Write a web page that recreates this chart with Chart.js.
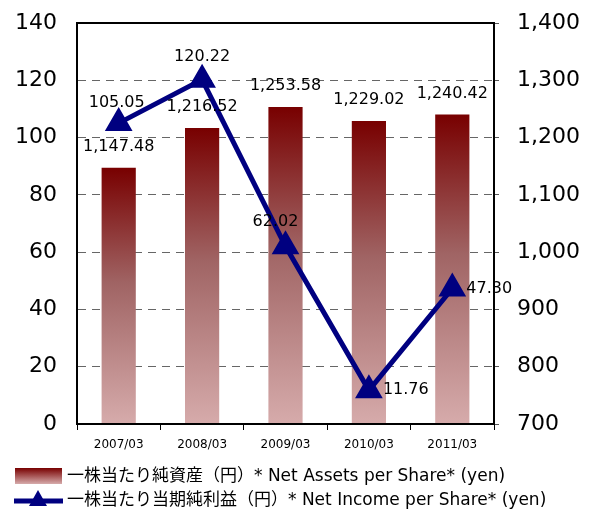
<!DOCTYPE html>
<html>
<head>
<meta charset="utf-8">
<script src="https://cdn.jsdelivr.net/npm/chart.js@4"></script>
<style>
	body { margin: 0; background: #fff; }
	#wrap { width: 598px; height: 512px; }
</style>
</head>
<body>
<div id="wrap"><canvas id="eps" width="598" height="512"></canvas></div>
<script>
// Data
var periods = ['2007/03', '2008/03', '2009/03', '2010/03', '2011/03'];
var netAssets = [1147.48, 1216.52, 1253.58, 1229.02, 1240.42];
var netIncome = [105.05, 120.22, 62.02, 11.76, 47.30];
var assetsLabel = '一株当たり純資産（円）* Net Assets per Share* (yen)';
var incomeLabel = '一株当たり当期純利益（円）* Net Income per Share* (yen)';

var FONT = "'DejaVu Sans', 'Noto Sans CJK JP', sans-serif";
var NAVY = '#000080';

var fmt = function (v) {
	return v.toLocaleString('en-US', { minimumFractionDigits: 2, maximumFractionDigits: 2 });
};

// per-bar gradient: dark red on top, pale pink at the bottom
var barFill = function (ctx) {
	var chart = ctx.chart;
	if (!chart.chartArea || !chart.scales.y1) return '#a05050';
	var top = chart.scales.y1.getPixelForValue(netAssets[ctx.dataIndex]);
	var g = chart.ctx.createLinearGradient(0, top, 0, chart.chartArea.bottom);
	g.addColorStop(0, '#780000');
	g.addColorStop(0.45, '#a06464');
	g.addColorStop(1, '#d6abab');
	return g;
};

// frame, value labels and legend
var decorations = {
	id: 'decorations',
	afterDatasetsDraw(chart) {
		var c = chart.ctx, a = chart.chartArea;
		c.save();
		c.strokeStyle = '#000';
		c.lineWidth = 2;
		c.strokeRect(a.left, a.top, a.right - a.left, a.bottom - a.top);

		c.fillStyle = '#000';
		c.font = '16px ' + FONT;
		c.textAlign = 'center';
		c.textBaseline = 'middle';
		var bars = chart.getDatasetMeta(0).data;
		var pts = chart.getDatasetMeta(1).data;
		bars.forEach(function (b, i) {
			c.fillText(fmt(netAssets[i]), b.x, b.y - 21);
		});
		var offs = [[-2, -20], [0, -23], [-10, -25], [28, 0], [30, 0]];
		pts.forEach(function (p, i) {
			c.textAlign = offs[i][0] > 10 ? 'left' : 'center';
			var x = offs[i][0] > 10 ? p.x + 14 : p.x + offs[i][0];
			c.fillText(fmt(netIncome[i]), x, p.y + offs[i][1]);
		});

		// legend
		var g = c.createLinearGradient(0, 468, 0, 484);
		g.addColorStop(0, '#780000');
		g.addColorStop(1, '#d6abab');
		c.fillStyle = g;
		c.fillRect(15, 468, 47, 16);
		c.strokeStyle = NAVY;
		c.lineWidth = 5;
		c.beginPath();
		c.moveTo(14, 501);
		c.lineTo(63, 501);
		c.stroke();
		c.fillStyle = NAVY;
		c.beginPath();
		c.moveTo(38, 490);
		c.lineTo(47, 506);
		c.lineTo(29, 506);
		c.closePath();
		c.fill();
		c.fillStyle = '#000';
		c.font = '17px ' + FONT;
		c.textAlign = 'left';
		c.fillText(assetsLabel, 67, 477);
		c.fillText(incomeLabel, 67, 501);
		c.restore();
	}
};

var noPad = function (s) {
	s.paddingTop = 0;
	s.paddingBottom = 0;
};

var drawChart = function () {
	var ctx = document.getElementById('eps').getContext('2d');
	new Chart(ctx, {
		data: {
			labels: periods,
			datasets: [{
				type: 'bar',
				label: assetsLabel,
				data: netAssets,
				yAxisID: 'y1',
				backgroundColor: barFill,
				categoryPercentage: 1,
				barPercentage: 0.41,
				order: 2,
			}, {
				type: 'line',
				label: incomeLabel,
				data: netIncome,
				yAxisID: 'y',
				borderColor: NAVY,
				backgroundColor: NAVY,
				borderWidth: 5,
				pointStyle: 'triangle',
				pointRadius: 11,
				pointBackgroundColor: NAVY,
				pointBorderColor: NAVY,
				tension: 0,
				order: 1,
			}],
		},
		options: {
			responsive: false,
			animation: false,
			layout: { padding: { top: 23, right: 0, left: 0, bottom: 0 } },
			plugins: {
				legend: { display: false },
				tooltip: { enabled: false },
			},
			scales: {
				x: {
					offset: true,
					grid: { display: true, drawOnChartArea: false, offset: true, tickLength: 6, color: '#000' },
					border: { color: '#000', width: 2 },
					ticks: { color: '#000', font: { family: FONT, size: 12 }, padding: 8 },
					afterFit(s) { s.height = 88; },
				},
				y: {
					position: 'left',
					min: 0,
					max: 140,
					ticks: { stepSize: 20, color: '#000', font: { family: FONT, size: 22 }, padding: 20 },
					grid: { color: '#666', tickLength: 0, lineWidth: 1 },
					border: { dash: [8, 6], color: '#000', width: 2 },
					afterFit(s) { s.width = 77; noPad(s); },
				},
				y1: {
					position: 'right',
					min: 700,
					max: 1400,
					ticks: {
						stepSize: 100,
						color: '#000',
						font: { family: FONT, size: 22 },
						padding: 18,
						callback: function (v) { return v.toLocaleString('en-US'); },
					},
					grid: { drawOnChartArea: false, tickLength: 5, color: '#555' },
					border: { color: '#555', width: 2 },
					afterFit(s) { s.width = 104; noPad(s); },
				},
			},
		},
		plugins: [decorations],
	});
};

drawChart();
</script>
</body>
</html>
